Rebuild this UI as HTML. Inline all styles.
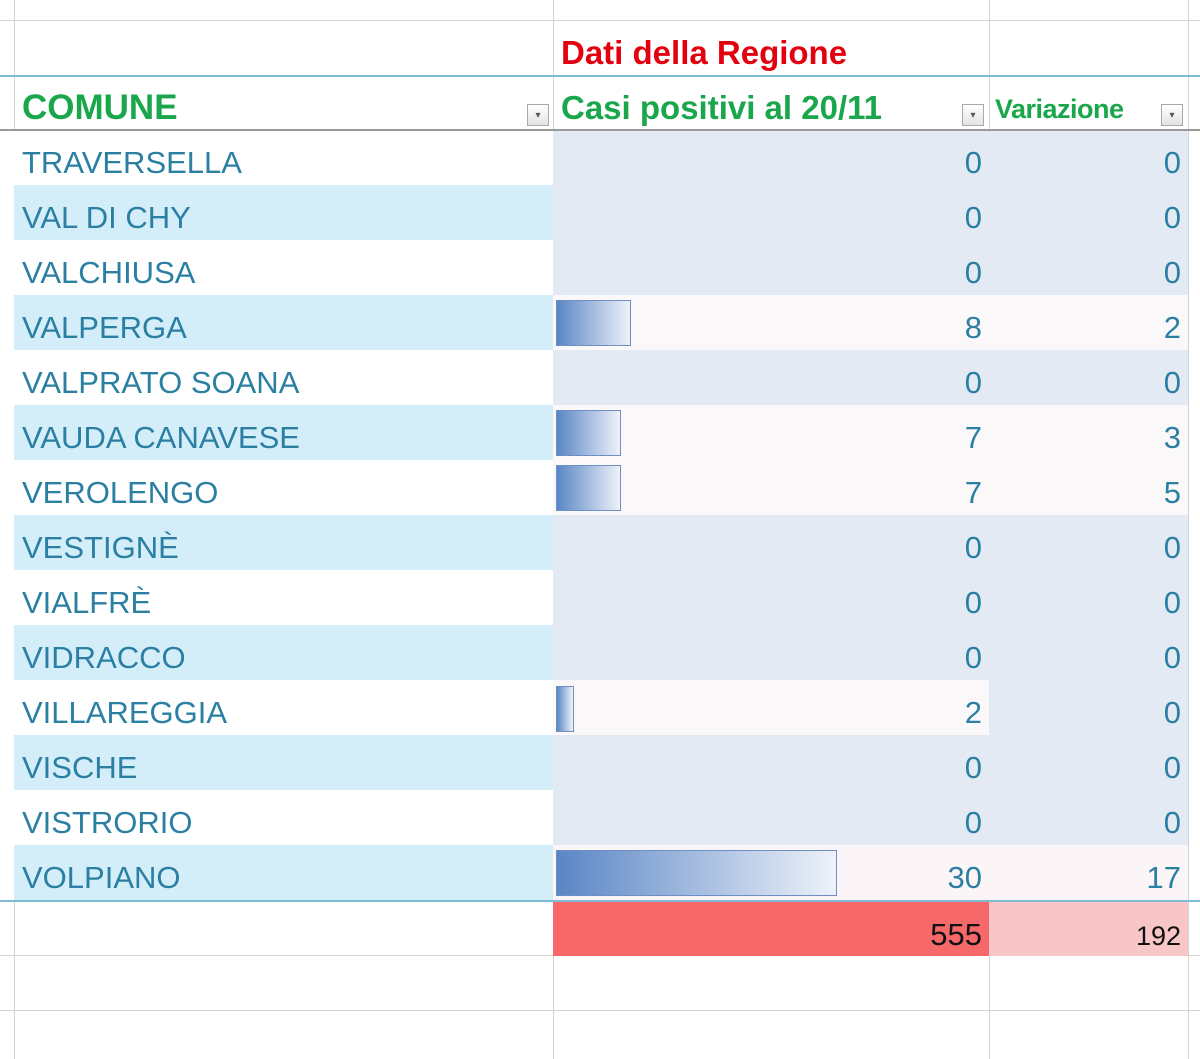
<!DOCTYPE html>
<html><head><meta charset="utf-8"><style>
body{margin:0;width:1200px;height:1059px;background:#fff;position:relative;overflow:hidden;font-family:"Liberation Sans",sans-serif}
.a{position:absolute}
.t{position:absolute;line-height:55px;font-size:31px;color:#2a7fa3;white-space:nowrap}
.vl{position:absolute;width:1px;background:#d4d4d4;top:0;height:1059px}
.hl{position:absolute;height:1px;background:#d4d4d4;left:0;width:1200px}
.bar{position:absolute;height:46px;border:1px solid #6d8fc4;background:linear-gradient(to right,#5a86c5,#eef2f9);box-sizing:border-box}
.fb{position:absolute;width:22px;height:22px;border:1px solid #aaa;background:linear-gradient(#fff,#e4e4e4);box-sizing:border-box;font-size:10px;color:#555;text-align:center;line-height:22px}
</style></head><body>
<div class="hl" style="top:20px"></div>
<div class="hl" style="top:955px"></div>
<div class="hl" style="top:1010px"></div>
<div class="vl" style="left:14px"></div>
<div class="vl" style="left:553px"></div>
<div class="vl" style="left:989px"></div>
<div class="vl" style="left:1188px"></div>
<div class="a" style="left:14px;top:130px;width:539px;height:770px;background:repeating-linear-gradient(#fff 0 55px,#d3eef9 55px 110px)"></div>
<div class="a" style="left:553px;top:130px;width:635px;height:770px;background:#e4eaf4"></div>
<div class="a" style="left:553px;top:295px;width:635px;height:55px;background:#fbf8fa"></div>
<div class="a" style="left:553px;top:405px;width:635px;height:110px;background:#fbf8fa"></div>
<div class="a" style="left:553px;top:680px;width:436px;height:55px;background:#fbf8fa"></div>
<div class="a" style="left:553px;top:845px;width:635px;height:55px;background:#fcf5f7"></div>
<div class="a" style="left:553px;top:900px;width:436px;height:56px;background:#f6686a"></div>
<div class="a" style="left:989px;top:900px;width:199px;height:56px;background:#f9c6c8"></div>
<div class="a" style="left:0;top:75px;width:1200px;height:2px;background:#7fbcd3"></div>
<div class="a" style="left:0;top:129px;width:1200px;height:2px;background:#9a9a9a"></div>
<div class="a" style="left:0;top:900px;width:1200px;height:2px;background:#7fbcd3"></div>
<div class="t" style="left:561px;top:25px;font-weight:bold;color:#e3000f;font-size:33px">Dati della Regione</div>
<div class="t" style="left:22px;top:80px;font-weight:bold;color:#1aa64b;font-size:35px">COMUNE</div>
<div class="t" style="left:561px;top:80px;font-weight:bold;color:#1aa64b;font-size:33px">Casi positivi al 20/11</div>
<div class="t" style="left:995px;top:82px;font-weight:bold;color:#1aa64b;font-size:27px;letter-spacing:-0.5px">Variazione</div>
<div class="fb" style="left:527px;top:104px">&#9662;</div>
<div class="fb" style="left:962px;top:104px">&#9662;</div>
<div class="fb" style="left:1161px;top:104px">&#9662;</div>
<div class="bar" style="left:556px;top:300px;width:75px"></div>
<div class="bar" style="left:556px;top:410px;width:65px"></div>
<div class="bar" style="left:556px;top:465px;width:65px"></div>
<div class="bar" style="left:556px;top:686px;width:18px"></div>
<div class="bar" style="left:556px;top:850px;width:281px"></div>
<div id="rows"></div>
<script>
var d=[["TRAVERSELLA",0,0],["VAL DI CHY",0,0],["VALCHIUSA",0,0],["VALPERGA",8,2],["VALPRATO SOANA",0,0],["VAUDA CANAVESE",7,3],["VEROLENGO",7,5],["VESTIGNÈ",0,0],["VIALFRÈ",0,0],["VIDRACCO",0,0],["VILLAREGGIA",2,0],["VISCHE",0,0],["VISTRORIO",0,0],["VOLPIANO",30,17]];
var h="";d.forEach(function(r,i){var y=135+i*55;
h+='<div class="t" style="left:22px;top:'+y+'px">'+r[0]+'</div>';
h+='<div class="t" style="right:218px;top:'+y+'px">'+r[1]+'</div>';
h+='<div class="t" style="right:19px;top:'+y+'px">'+r[2]+'</div>';});
h+='<div class="t" style="right:218px;top:907px;color:#111">555</div>';
h+='<div class="t" style="right:19px;top:909px;color:#111;font-size:27px">192</div>';
document.getElementById("rows").innerHTML=h;
</script>
</body></html>
